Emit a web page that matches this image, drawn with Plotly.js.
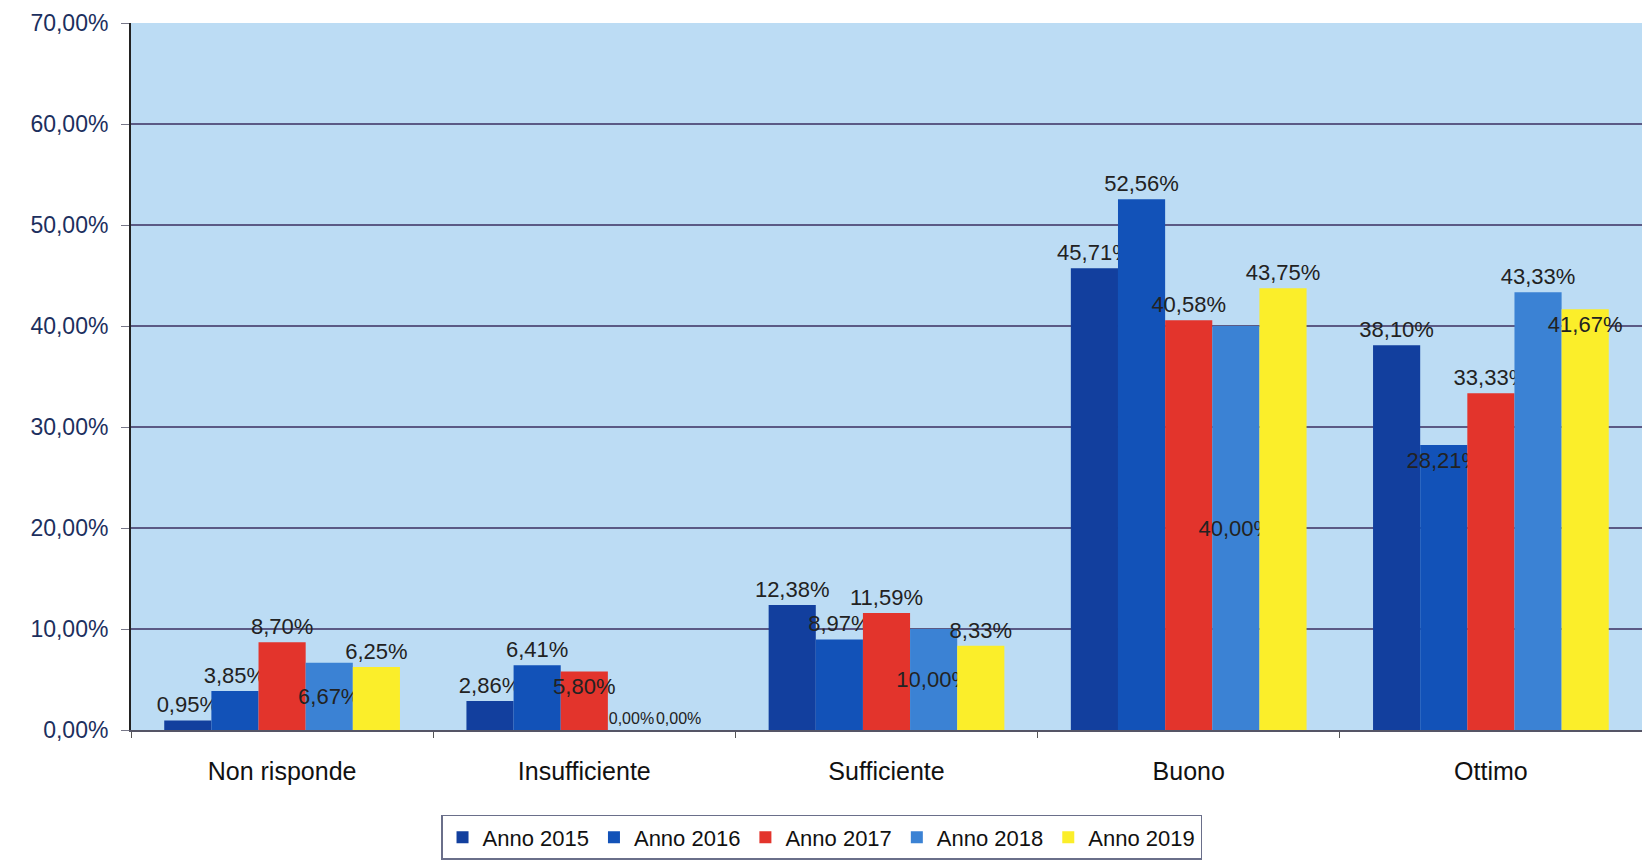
<!DOCTYPE html>
<html>
<head>
<meta charset="utf-8">
<script src="https://cdn.plot.ly/plotly-3.0.1.min.js"></script>
<style>
html,body{margin:0;padding:0;background:#ffffff;}
#chart{width:1642px;height:864px;}
</style>
</head>
<body>
<div id="chart"></div>
<script>
const categories = ["Non risponde", "Insufficiente", "Sufficiente", "Buono", "Ottimo"];
const seriesNames = ["Anno 2015", "Anno 2016", "Anno 2017", "Anno 2018", "Anno 2019"];
const anno2015 = [0.95, 2.86, 12.38, 45.71, 38.10];
const anno2016 = [3.85, 6.41, 8.97, 52.56, 28.21];
const anno2017 = [8.70, 5.80, 11.59, 40.58, 33.33];
const anno2018 = [6.67, 0.00, 10.00, 40.00, 43.33];
const anno2019 = [6.25, 0.00, 8.33, 43.75, 41.67];
const yTicks = [0, 10, 20, 30, 40, 50, 60, 70];
const yTickLabels = ["0,00%", "10,00%", "20,00%", "30,00%", "40,00%", "50,00%", "60,00%", "70,00%"];

const seriesValues = [anno2015, anno2016, anno2017, anno2018, anno2019];
const colors = ["#123f9e", "#1252b8", "#e3342c", "#3b82d4", "#fbee2a"];
// label placement per series (style only)
const labelPos = [
  ["outside", "outside", "outside", "outside", "outside"],
  ["outside", "outside", "outside", "outside", "inside"],
  ["outside", "inside", "outside", "outside", "outside"],
  ["inside", "outside", "inside", "inside", "outside"],
  ["outside", "outside", "outside", "outside", "inside"]
];
const labelAnchor = ["end", "end", "end", "middle", "end"];
const FONT = "Liberation Sans, Arial, sans-serif";

const traces = seriesValues.map((vals, i) => ({
  type: "bar",
  name: seriesNames[i],
  x: categories,
  y: vals,
  marker: {color: colors[i], line: {width: 0}},
  texttemplate: "%{y:.2f}%",
  textposition: labelPos[i],
  constraintext: "none",
  insidetextanchor: labelAnchor[i],
  textangle: 0,
  cliponaxis: false,
  textfont: {family: FONT, size: vals.map(v => v === 0 ? 16 : 22), color: "#222222"},
  insidetextfont: {family: FONT, size: 22, color: "#222222"},
  outsidetextfont: {family: FONT, size: vals.map(v => v === 0 ? 16 : 22), color: "#222222"},
  hoverinfo: "skip"
}));

const layout = {
  width: 1642,
  height: 864,
  separators: ",.",
  paper_bgcolor: "#ffffff",
  plot_bgcolor: "#bcdcf4",
  margin: {l: 131, r: 0, t: 23, b: 134},
  barmode: "group",
  bargap: 0.22,
  bargroupgap: 0,
  showlegend: true,
  font: {family: FONT, color: "#111111"},
  xaxis: {
    type: "category",
    tickfont: {size: 25, color: "#111111"},
    ticks: "outside",
    tickson: "boundaries",
    ticklen: 6,
    tickcolor: "#555555",
    ticklabelstandoff: 18,
    showline: true,
    linecolor: "#555566",
    linewidth: 1.5,
    showgrid: false,
    automargin: false
  },
  yaxis: {
    range: [0, 70],
    tickvals: yTicks,
    ticktext: yTickLabels,
    tickfont: {size: 23, color: "#1c2f5e"},
    ticks: "outside",
    ticklen: 8,
    tickcolor: "#777788",
    ticklabelstandoff: 8,
    showline: true,
    linecolor: "#222222",
    linewidth: 2,
    showgrid: true,
    gridcolor: "#5b5a85",
    gridwidth: 1.5,
    zeroline: false,
    automargin: false
  },
  legend: {
    orientation: "h",
    x: 0.457,
    xanchor: "center",
    y: -0.12,
    yanchor: "top",
    bgcolor: "#ffffff",
    bordercolor: "#6a6f8a",
    borderwidth: 1.5,
    font: {size: 22, color: "#111111"},
    itemwidth: 30,
    traceorder: "normal"
  }
};

Plotly.newPlot("chart", traces, layout, {displayModeBar: false, staticPlot: true});
</script>
</body>
</html>
